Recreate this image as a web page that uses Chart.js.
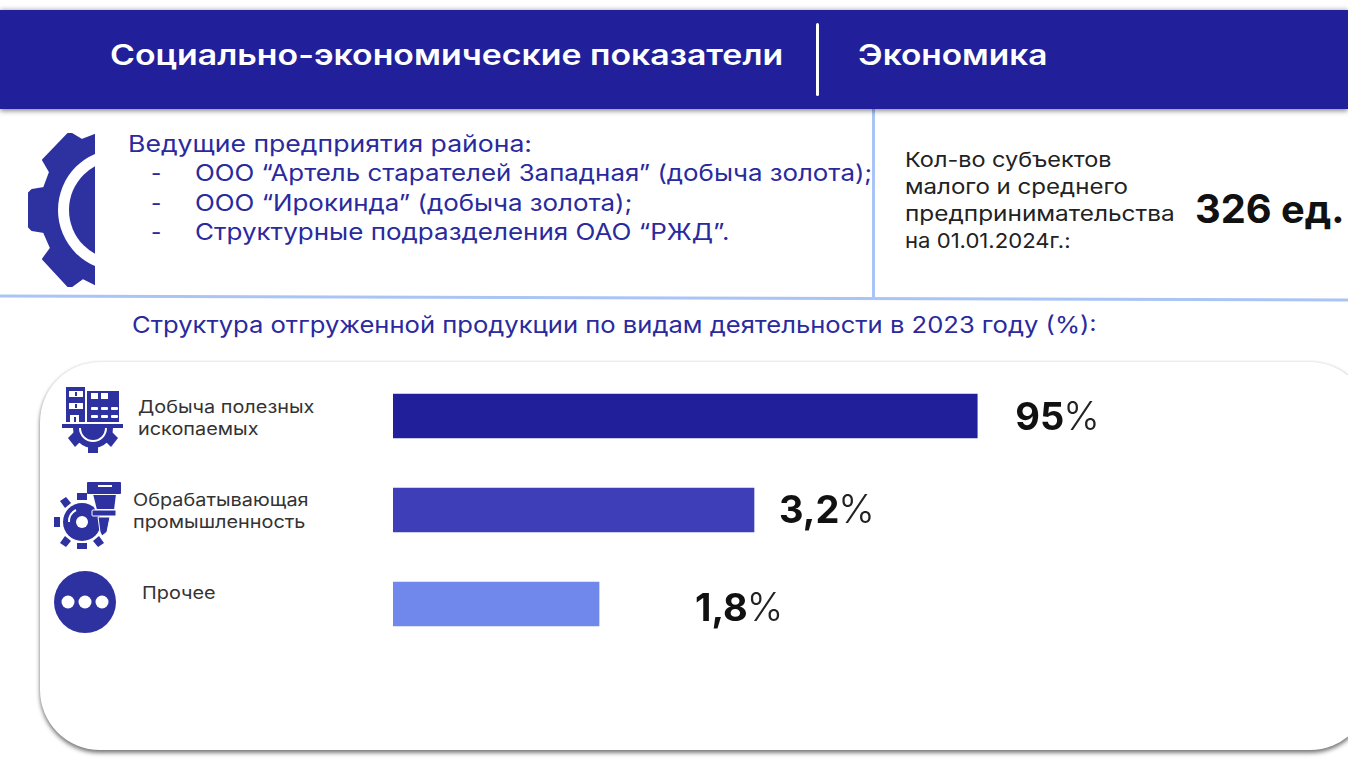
<!DOCTYPE html>
<html lang="ru">
<head>
<meta charset="utf-8">
<title>Экономика</title>
<script src="https://cdn.jsdelivr.net/npm/chart.js@4"></script>
<style>
  html, body { margin: 0; padding: 0; background: #fff; }
  body { width: 1348px; height: 758px; position: relative; overflow: hidden; font-family: Inter, "Noto Sans", sans-serif; }
  .abs { position: absolute; white-space: nowrap; transform-origin: left center; z-index: 2; }
  #header { position: absolute; left: 0; top: 10px; width: 1348px; height: 99px; background: #21209a; box-shadow: 0 2px 5px rgba(0,0,0,.45), 0 -2px 4px rgba(0,0,0,.12); }
  #divider { position: absolute; left: 816px; top: 23px; width: 3px; height: 73px; background: #fff; border-radius: 2px; z-index: 2; }
  #vline { position: absolute; left: 872px; top: 108px; width: 3px; height: 190px; background: #a9c4f5; }
  .head { color: #fff; font-size: 28.5px; font-weight: 600; line-height: 34px; top: 38px; }
  .blue { color: #2a2a9e; font-size: 22.5px; line-height: 28px; }
  .dark { color: #222; font-size: 20.5px; line-height: 27px; }
  #panel { position: absolute; left: 40px; top: 362px; width: 1330px; height: 388px; background: #fff; border-radius: 60px; box-shadow: 0 3px 4px rgba(0,0,0,.5), 0 0 3px rgba(0,0,0,.14); }
  .cat { color: #333; font-size: 17.5px; line-height: 22px; }
  #chart { position: absolute; left: 393px; top: 369px; z-index: 2; }
  svg { position: absolute; left: 0; top: 0; overflow: visible; }
</style>
</head>
<body>

<svg width="1348" height="758" style="z-index:0">
  <line x1="0" y1="296" x2="1348" y2="300" stroke="#a9c4f5" stroke-width="3"/>
</svg>
<div id="vline"></div>
<div id="panel"></div>

<div id="header"></div>
<div id="divider"></div>
<div class="abs head" style="left:110px" data-w="673">Социально-экономические показатели</div>
<div class="abs head" style="left:858px" data-w="190">Экономика</div>

<svg width="1348" height="758" style="z-index:1">
  <defs><clipPath id="halfGear"><rect x="0" y="120" width="95" height="180"/></clipPath></defs>
  <!-- half gear next to the list -->
  <g clip-path="url(#halfGear)">
    <path fill="#2e31a0" stroke="#2e31a0" stroke-width="2" stroke-linejoin="round" d="M95 135 L82 140 L72 134 L68 134 L43 160 L50 172 L44 188 L32 190 L29 193 L29 227 L32 230 L44 232 L51 248 L43 259 L68 286 L72 286 L83 278 L95 284 Z"/>
    <circle cx="119" cy="210" r="61" fill="#fff"/>
    <circle cx="119" cy="210" r="50" fill="#2e31a0"/>
  </g>

  <!-- mining icon -->
  <g fill="#2e31a0">
    <rect x="66" y="387" width="19" height="35"/>
    <rect x="87" y="391" width="32" height="31"/>
    <rect x="62" y="424" width="61" height="4"/>
    <path d="M73 428 H113 A20 20 0 0 1 73 428 Z"/>
    <rect x="88" y="444" width="10" height="9"/>
    <path d="M68 438 L74 432 L81 441 L75 447 Z"/>
    <path d="M118 438 L112 432 L105 441 L111 447 Z"/>
    <g fill="#fff">
      <rect x="69" y="391" width="14" height="6"/>
      <rect x="69" y="403" width="14" height="6"/>
      <rect x="70" y="415" width="9" height="7"/>
      <rect x="91" y="393" width="7" height="6"/><rect x="101" y="393" width="7" height="6"/>
      <rect x="91" y="407" width="7" height="3" rx="1"/><rect x="101" y="407" width="7" height="3" rx="1"/><rect x="111" y="407" width="7" height="3" rx="1"/>
      <rect x="91" y="415" width="7" height="3" rx="1"/><rect x="101" y="415" width="7" height="3" rx="1"/><rect x="111" y="415" width="7" height="3" rx="1"/>
    </g>
    <g><rect x="75" y="392" width="2" height="4"/><rect x="75" y="404" width="2" height="4"/><rect x="74" y="417" width="2" height="5"/></g>
    <path d="M79 428 H107 A14 14 0 0 1 79 428 Z" fill="#fff"/>
    <path d="M81 428 H105 A12 12 0 0 1 81 428 Z"/>
  </g>

  <!-- processing icon -->
  <g fill="#2e31a0">
    <circle cx="82" cy="522" r="19"/>
    <rect x="77" y="493" width="10" height="7"/><rect x="77" y="543" width="10" height="6"/>
    <rect x="54" y="517" width="6" height="10"/>
    <path d="M60 501 L66 497 L71 503 L65 508 Z"/>
    <path d="M60 543 L66 547 L71 541 L65 536 Z"/>
    <path d="M104 543 L98 547 L93 541 L99 536 Z"/>
    <circle cx="82" cy="522" r="6" fill="#fff"/>
    <path d="M69 522 A13 13 0 0 1 76 510" fill="none" stroke="#fff" stroke-width="2"/>
    <path d="M92 494 L117 494 L115 510 L96 510 Z" stroke="#fff" stroke-width="2"/>
    <rect x="87" y="482" width="34" height="12" rx="1"/>
    <rect x="98" y="485" width="14" height="2" fill="#fff"/>
    <rect x="92" y="510" width="24" height="6" rx="1" stroke="#fff" stroke-width="1"/>
    <path d="M98 517 L110 517 L107 532 L102 536 L100 532 Z" stroke="#fff" stroke-width="1"/>
    <circle cx="85" cy="602" r="31"/>
    <g fill="#fff"><circle cx="68" cy="602" r="6.5"/><circle cx="85" cy="602" r="6.5"/><circle cx="102" cy="602" r="6.5"/></g>
  </g>
</svg>

<div class="abs blue" style="left:128px;top:130px" data-w="404">Ведущие предприятия района:</div>
<div class="abs blue" style="left:151px;top:159px">-</div>
<div class="abs blue" style="left:195px;top:159px" data-w="677">ООО “Артель старателей Западная” (добыча золота);</div>
<div class="abs blue" style="left:151px;top:189px">-</div>
<div class="abs blue" style="left:195px;top:189px" data-w="437">ООО “Ирокинда” (добыча золота);</div>
<div class="abs blue" style="left:151px;top:218px">-</div>
<div class="abs blue" style="left:195px;top:218px" data-w="535">Структурные подразделения ОАО “РЖД”.</div>

<div class="abs dark" style="left:905px;top:146px" data-w="206">Кол-во субъектов</div>
<div class="abs dark" style="left:905px;top:173px" data-w="223">малого и среднего</div>
<div class="abs dark" style="left:905px;top:200px" data-w="270">предпринимательства</div>
<div class="abs dark" style="left:905px;top:227px" data-w="166">на 01.01.2024г.:</div>
<div class="abs" style="left:1195px;top:185px;font-size:39px;line-height:48px;font-weight:700;color:#111" data-w="150">326 ед.</div>

<div class="abs blue" style="left:132px;top:311px" data-w="965">Структура отгруженной продукции по видам деятельности в 2023 году (%):</div>

<div id="cats"></div>
<canvas id="chart" width="738" height="282"></canvas>

<script>
const categories = ['Добыча полезных\nископаемых', 'Обрабатывающая\nпромышленность', 'Прочее'];
const shownValues = [95, 3.2, 1.8];
// the bars in the picture are not to scale with their labels, so lengths are read separately
const barLengths = [95, 58.7, 33.5];
const barColors = ['#21209a', '#3e3eb9', '#7088ec'];

const catPlaces = [[138, 396], [133, 489], [142, 582]];
const labelGaps = [38, 25, 96];
const labelShift = [0, -1, 3];

categories.forEach((c, i) => {
  const d = document.createElement('div');
  d.className = 'abs cat';
  d.style.left = catPlaces[i][0] + 'px';
  d.style.top = catPlaces[i][1] + 'px';
  d.style.transform = 'scaleX(1.135)';
  d.innerHTML = c.replace('\n', '<br>');
  document.getElementById('cats').appendChild(d);
});

// the installed fonts run narrower than the original, stretch each line to its width
document.querySelectorAll('[data-w]').forEach(el => {
  el.style.transform = 'scaleX(' + (el.dataset.w / el.offsetWidth) + ')';
});

// bold number + thin percent sign after each bar
const valueLabels = {
  id: 'valueLabels',
  afterDatasetsDraw(chart) {
    const ctx = chart.ctx;
    chart.getDatasetMeta(0).data.forEach((bar, i) => {
      const num = String(shownValues[i]).replace('.', ',');
      const x = bar.x + labelGaps[i];
      const y = bar.y + 14 + labelShift[i];
      ctx.save();
      ctx.textAlign = 'left';
      ctx.textBaseline = 'alphabetic';
      ctx.fillStyle = '#111';
      ctx.font = '700 38px Inter';
      ctx.fillText(num, x, y);
      const w = ctx.measureText(num).width;
      ctx.font = '300 39px Inter';
      ctx.fillStyle = '#222';
      ctx.fillText('%', x + w - 1, y);
      ctx.restore();
    });
  },
};

new Chart(document.getElementById('chart'), {
  type: 'bar',
  data: {
    labels: categories,
    datasets: [{ data: barLengths, backgroundColor: barColors, barThickness: 44, borderWidth: 0 }],
  },
  options: {
    indexAxis: 'y',
    responsive: false,
    animation: false,
    layout: { padding: 0 },
    plugins: { legend: { display: false }, tooltip: { enabled: false } },
    scales: {
      x: { display: false, min: 0, max: 120 },
      y: { display: false },
    },
  },
  plugins: [valueLabels],
});
</script>
</body>
</html>
